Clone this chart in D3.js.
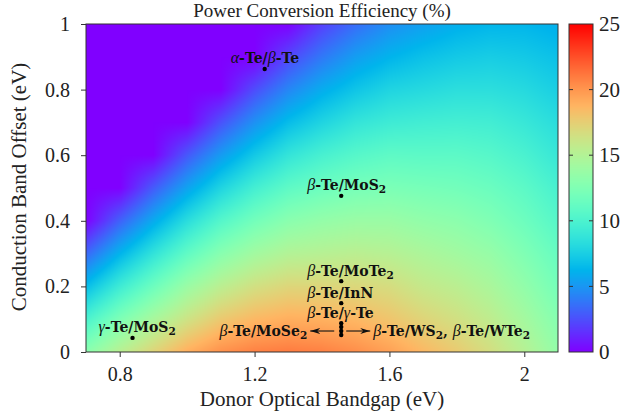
<!DOCTYPE html>
<html><head><meta charset="utf-8">
<script src="https://cdn.jsdelivr.net/npm/d3@7"></script>
<style>body{margin:0;background:#fff} svg{display:block}</style>
</head><body><svg id="chart" width="625" height="411"></svg>
<script>
// ---- data ----
const bandgaps = [0.7,0.8,0.9,1.0,1.1,1.2,1.3,1.4,1.5,1.6,1.7,1.8,1.9,2.0,2.1];
const offsets  = [0.0,0.1,0.2,0.3,0.4,0.5,0.6,0.7,0.8,0.9,1.0];
// PCE (%) : one row per offset (0 → 1 eV), one column per bandgap
const pce = [
 [13.0,15.3,17.2,19.0,20.2,20.8,21.0,20.8,20.3,19.6,18.6,17.7,16.6,15.2,13.5],
 [ 9.9,12.4,14.5,16.3,17.8,18.6,19.0,18.9,18.6,18.0,17.2,16.5,15.6,14.3,12.8],
 [ 6.6, 9.3,11.6,13.8,15.4,16.5,17.1,17.1,17.0,16.7,15.9,15.4,14.6,13.4,12.0],
 [ 3.3, 6.2, 8.7,11.0,12.9,14.2,15.0,15.2,15.4,15.2,14.7,14.2,13.6,12.5,11.3],
 [ 0.0, 3.1, 5.8, 8.3,10.4,11.9,13.0,13.5,13.8,13.8,13.4,13.1,12.5,11.6,10.5],
 [ 0.0, 0.0, 2.9, 5.5, 7.8, 9.6,10.9,11.6,12.1,12.3,12.1,11.9,11.5,10.8, 9.8],
 [ 0.0, 0.0, 0.0, 2.8, 5.2, 7.2, 8.8, 9.8,10.5,10.9,10.8,10.8,10.5, 9.9, 9.0],
 [ 0.0, 0.0, 0.0, 0.0, 2.6, 4.8, 6.6, 7.8, 8.8, 9.3, 9.5, 9.6, 9.5, 9.0, 8.3],
 [ 0.0, 0.0, 0.0, 0.0, 0.0, 2.4, 4.4, 5.9, 7.0, 7.8, 8.1, 8.4, 8.4, 8.1, 7.5],
 [ 0.0, 0.0, 0.0, 0.0, 0.0, 0.0, 2.2, 3.9, 5.3, 6.2, 6.8, 7.2, 7.4, 7.2, 6.8],
 [ 0.0, 0.0, 0.0, 0.0, 0.0, 0.0, 0.0, 2.0, 3.5, 4.7, 5.4, 6.0, 6.3, 6.3, 6.0]
];
const xTicks = [0.8,1.2,1.6,2];
const xTickLabels = ["0.8","1.2","1.6","2"];
const yTicks = [0,0.2,0.4,0.6,0.8,1];
const yTickLabels = ["0","0.2","0.4","0.6","0.8","1"];
const cbTicks = [0,5,10,15,20,25];
// materials: donor bandgap, conduction band offset
const matNames = ["α-Te/β-Te","β-Te/MoS2","β-Te/MoTe2","β-Te/InN","β-Te/γ-Te","β-Te/MoSe2","β-Te/WS2","β-Te/WTe2","γ-Te/MoS2"];
const matGap   = [1.23, 1.457, 1.457, 1.457, 1.457, 1.457, 1.457, 1.457, 0.838];
const matOff   = [0.863, 0.476, 0.216, 0.149, 0.088, 0.076, 0.064, 0.052, 0.043];
const labelled = [true, true, true, true, true, false, false, false, true];

// ---- layout ----
const M = {left: 86, right: 558, top: 24, bottom: 352};
const svg = d3.select("#chart");
const x = d3.scaleLinear().domain([0.7, 2.1]).range([M.left, M.right]);
const y = d3.scaleLinear().domain([0, 1]).range([M.bottom, M.top]);
const cb = d3.scaleLinear().domain([0, 25]).range([M.bottom, M.top]);

// gnuplot "rainbow" palette (rgbformulae 33,13,10)
const clamp = v => Math.max(0, Math.min(1, v));
const rainbow = t => {
  const r = clamp(Math.abs(2*t - 0.5)), g = clamp(Math.sin(Math.PI*t)), b = clamp(Math.cos(Math.PI*t/2));
  return [Math.round(r*255), Math.round(g*255), Math.round(b*255)];
};
const color = d3.scaleLinear().domain([0, 25]).range([0, 1]).clamp(true);

const gi = d3.scaleLinear().domain([bandgaps[0], bandgaps[bandgaps.length-1]]).range([0, bandgaps.length-1]).clamp(true);
const oi = d3.scaleLinear().domain([offsets[0], offsets[offsets.length-1]]).range([0, offsets.length-1]).clamp(true);
function field(eg, de) {
  const fx = gi(eg), fy = oi(de);
  const x0 = Math.min(Math.floor(fx), bandgaps.length-2), y0 = Math.min(Math.floor(fy), offsets.length-2);
  const tx = fx - x0, ty = fy - y0;
  const a = pce[y0][x0], b = pce[y0][x0+1], c = pce[y0+1][x0], d = pce[y0+1][x0+1];
  return (a*(1-tx)+b*tx)*(1-ty) + (c*(1-tx)+d*tx)*ty;
}

// heat map rendered through the scales into a canvas
const pw = M.right - M.left, ph = M.bottom - M.top;
const cv = document.createElement("canvas"); cv.width = pw; cv.height = ph;
const ctx = cv.getContext("2d"); const img = ctx.createImageData(pw, ph);
for (let j = 0; j < ph; j++) {
  const de = y.invert(M.top + j + 0.5);
  for (let i = 0; i < pw; i++) {
    const eg = x.invert(M.left + i + 0.5);
    const [r,g,b] = rainbow(color(field(eg, de)));
    const k = 4*(j*pw + i); img.data[k]=r; img.data[k+1]=g; img.data[k+2]=b; img.data[k+3]=255;
  }
}
ctx.putImageData(img, 0, 0);
svg.append("image").attr("x", M.left).attr("y", M.top).attr("width", pw).attr("height", ph)
  .attr("preserveAspectRatio", "none").attr("href", cv.toDataURL());

// colour bar
const CB = {left: 569, right: 593};
const cv2 = document.createElement("canvas"); cv2.width = 1; cv2.height = ph;
const c2 = cv2.getContext("2d"); const im2 = c2.createImageData(1, ph);
for (let j = 0; j < ph; j++) {
  const [r,g,b] = rainbow(color(cb.invert(M.top + j + 0.5)));
  im2.data[4*j]=r; im2.data[4*j+1]=g; im2.data[4*j+2]=b; im2.data[4*j+3]=255;
}
c2.putImageData(im2, 0, 0);
svg.append("image").attr("x", CB.left).attr("y", M.top).attr("width", CB.right-CB.left).attr("height", ph)
  .attr("preserveAspectRatio", "none").style("image-rendering", "pixelated").attr("href", cv2.toDataURL());

const stroke = "#333";
const serif = "'Liberation Serif', 'Times New Roman', serif";

// axes
const xAxis = d3.axisBottom(x).tickValues(xTicks).tickFormat((d,i) => xTickLabels[i]).tickSize(5).tickPadding(6);
const yAxis = d3.axisLeft(y).tickValues(yTicks).tickFormat((d,i) => yTickLabels[i]).tickSize(5).tickPadding(11);
const gx = svg.append("g").attr("transform", `translate(0,${M.bottom})`).call(xAxis);
const gy = svg.append("g").attr("transform", `translate(${M.left},0)`).call(yAxis);
[gx, gy].forEach(g => {
  g.select(".domain").remove();
  g.selectAll(".tick line").attr("stroke", stroke);
  g.selectAll(".tick text").attr("fill", "#222").style("font-family", serif).style("font-size", "20px");
});
gx.selectAll(".tick text").attr("dy", "0.9em");

svg.append("rect").attr("x", M.left).attr("y", M.top).attr("width", pw).attr("height", ph)
  .attr("fill", "none").attr("stroke", stroke).attr("stroke-width", 1);

// colour bar axis
const cbAxis = d3.axisRight(cb).tickValues(cbTicks).tickSize(0).tickPadding(6);
const gc = svg.append("g").attr("transform", `translate(${CB.right},0)`).call(cbAxis);
gc.select(".domain").remove();
gc.selectAll(".tick text").attr("fill", "#222").style("font-family", serif).style("font-size", "21px");
const inner = cbTicks.filter(v => v > 0 && v < 25);
svg.append("g").selectAll("line").data(inner).join("line")
  .attr("x1", CB.left).attr("x2", CB.left + 4).attr("y1", d => cb(d)).attr("y2", d => cb(d))
  .attr("stroke", stroke);
svg.append("g").selectAll("line").data(inner).join("line")
  .attr("x1", CB.right - 4).attr("x2", CB.right).attr("y1", d => cb(d)).attr("y2", d => cb(d))
  .attr("stroke", stroke);
svg.append("rect").attr("x", CB.left).attr("y", M.top).attr("width", CB.right-CB.left).attr("height", ph)
  .attr("fill", "none").attr("stroke", stroke);

// titles
svg.append("text").attr("x", 322).attr("y", 17).attr("text-anchor", "middle")
  .style("font-family", serif).style("font-size", "19px").attr("fill", "#222")
  .text("Power Conversion Efficiency (%)");
svg.append("text").attr("x", 322).attr("y", 406).attr("text-anchor", "middle")
  .style("font-family", serif).style("font-size", "21px").attr("fill", "#222")
  .text("Donor Optical Bandgap (eV)");
svg.append("text").attr("transform", "translate(26,187) rotate(-90)").attr("text-anchor", "middle")
  .style("font-family", serif).style("font-size", "21px").attr("fill", "#222")
  .text("Conduction Band Offset (eV)");

// annotation helpers
const labFont = "'DejaVu Serif', serif";
function richText(sel, str) {
  const parts = [];
  for (const ch of str) {
    const cls = /[αβγ]/.test(ch) ? "g" : /[0-9]/.test(ch) ? "s" : "b";
    if (parts.length && parts[parts.length-1].c === cls) parts[parts.length-1].t += ch;
    else parts.push({c: cls, t: ch});
  }
  let sub = false;
  parts.forEach(p => {
    const ts = sel.append("tspan").text(p.t);
    if (p.c === "g") ts.style("font-style", "italic").style("font-weight", "normal").style("font-family", serif).style("font-size", "16px");
    if (p.c === "s") { ts.attr("dy", 3).style("font-size", "10.5px"); sub = true; }
    else if (sub) { ts.attr("dy", -3); sub = false; }
  });
}
function label(xp, yp, str, anchor) {
  const t = svg.append("text").attr("x", xp).attr("y", yp).attr("text-anchor", anchor || "start")
    .style("font-family", labFont).style("font-weight", "bold").style("font-size", "14px").attr("fill", "#111");
  richText(t, str);
  return t;
}

// points
svg.append("g").selectAll("circle").data(matNames).join("circle")
  .attr("cx", (d,i) => x(matGap[i])).attr("cy", (d,i) => y(matOff[i])).attr("r", 2.2).attr("fill", "#000");
matNames.forEach((n, i) => {
  if (labelled[i]) label(x(matGap[i]) - 34, y(matOff[i]) - 5.5, n);
});
// grouped labels with arrows
const gx0 = x(matGap[6]), gy0 = y(matOff[6]);
svg.append("defs").append("marker").attr("id", "ah").attr("viewBox", "0 0 10 6").attr("refX", 10).attr("refY", 3)
  .attr("markerWidth", 10).attr("markerHeight", 6).attr("markerUnits", "userSpaceOnUse").attr("orient", "auto")
  .append("path").attr("d", "M0,0 L10,3 L0,6 L3,3 Z").attr("fill", "#111");
svg.append("line").attr("x1", gx0 - 7).attr("x2", gx0 - 31).attr("y1", gy0).attr("y2", gy0)
  .attr("stroke", "#111").attr("stroke-width", 1.1).attr("marker-end", "url(#ah)");
svg.append("line").attr("x1", gx0 + 5).attr("x2", gx0 + 29).attr("y1", gy0).attr("y2", gy0)
  .attr("stroke", "#111").attr("stroke-width", 1.1).attr("marker-end", "url(#ah)");
label(gx0 - 34, gy0 + 5, matNames[5], "end");
label(gx0 + 32, gy0 + 5, matNames[6] + ", " + matNames[7], "start");
</script></body></html>
